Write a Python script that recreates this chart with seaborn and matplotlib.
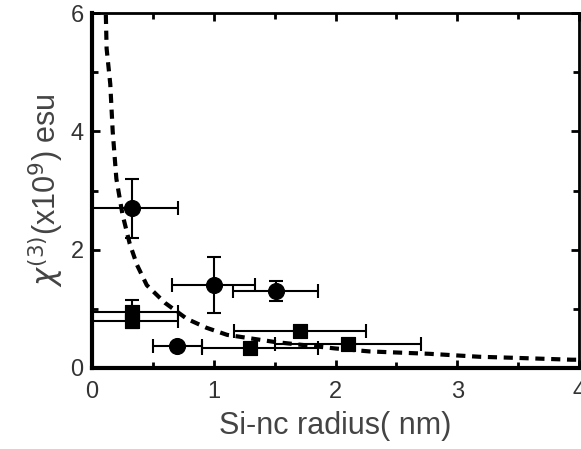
import matplotlib
matplotlib.use("Agg")
import matplotlib.pyplot as plt
import seaborn as sns
import pandas as pd
from matplotlib.ticker import MultipleLocator

# Data
circ_x = [0.33, 0.70, 1.00, 1.51]
circ_y = [2.70, 0.38, 1.40, 1.30]
circ_xerr = [0.38, 0.20, 0.34, 0.35]
circ_yerr = [0.50, 0.05, 0.47, 0.17]

sq_x = [0.33, 0.33, 1.30, 1.71, 2.10]
sq_y = [0.95, 0.80, 0.34, 0.62, 0.40]
sq_xerr_lo = [0.38, 0.38, 0.40, 0.54, 0.60]
sq_xerr_hi = [0.38, 0.38, 0.56, 0.54, 0.60]
sq_yerr = [0.20, 0.12, 0.05, 0.06, 0.06]

fit_x = [0.11, 0.12, 0.15, 0.17, 0.20, 0.25, 0.31, 0.37, 0.45, 0.60, 0.78,
         0.94, 1.11, 1.50, 2.00, 2.28, 2.77, 3.18, 3.50, 3.94, 4.00]
fit_y = [6.30, 5.40, 4.80, 4.00, 3.20, 2.60, 2.10, 1.74, 1.40, 1.10, 0.83,
         0.68, 0.56, 0.44, 0.33, 0.28, 0.24, 0.19, 0.17, 0.14, 0.14]

x_label = "Si-nc radius( nm)"
y_label = r"$\chi^{(3)}$(x10$^{9}$) esu"

sns.set_style("ticks")
plt.rcParams['font.family'] = ['Liberation Sans', 'DejaVu Sans']

fig = plt.figure(figsize=(5.81, 4.49), dpi=100)
ax = fig.add_axes([92/581, 1-368/449, (579-92)/581, (368-13)/449])

fit_df = pd.DataFrame({"x": fit_x, "y": fit_y})
sns.lineplot(data=fit_df, x="x", y="y", ax=ax, color="black", lw=3.0,
             linestyle=(0, (2.2, 1.6)), sort=False)

ax.errorbar(circ_x, circ_y, xerr=circ_xerr, yerr=circ_yerr, fmt="none",
            ecolor="black", elinewidth=1.5, capsize=5, capthick=1.5)
ax.errorbar(sq_x, sq_y, xerr=[sq_xerr_lo, sq_xerr_hi], yerr=sq_yerr, fmt="none",
            ecolor="black", elinewidth=1.5, capsize=5, capthick=1.5)

circ_df = pd.DataFrame({"x": circ_x, "y": circ_y})
sq_df = pd.DataFrame({"x": sq_x, "y": sq_y})
sns.scatterplot(data=circ_df, x="x", y="y", ax=ax, marker="o", s=130,
                color="black", edgecolor="black", zorder=5)
sns.scatterplot(data=sq_df, x="x", y="y", ax=ax, marker="s", s=110,
                color="black", edgecolor="black", zorder=5)

ax.set_xlim(0, 4)
ax.set_ylim(0, 6)
ax.xaxis.set_major_locator(MultipleLocator(1))
ax.xaxis.set_minor_locator(MultipleLocator(0.5))
ax.yaxis.set_major_locator(MultipleLocator(2))
ax.yaxis.set_minor_locator(MultipleLocator(1))

ax.tick_params(which="both", direction="in", top=True, right=True,
               labelsize=17, colors="black", labelcolor="#333333")
ax.tick_params(axis="x", pad=9)
ax.tick_params(axis="y", pad=6)
ax.tick_params(which="major", length=6, width=2)
ax.tick_params(which="minor", length=4, width=2)

for side in ["left", "bottom"]:
    ax.spines[side].set_linewidth(3)
for side in ["top", "right"]:
    ax.spines[side].set_linewidth(2)
for s in ax.spines.values():
    s.set_color("black")
    s.set_visible(True)

ax.set_xlabel(x_label, fontsize=22, color="#444444", labelpad=6)
ax.set_ylabel(y_label, fontsize=22, color="#444444", labelpad=4)

fig.savefig("out.png", dpi=100)
